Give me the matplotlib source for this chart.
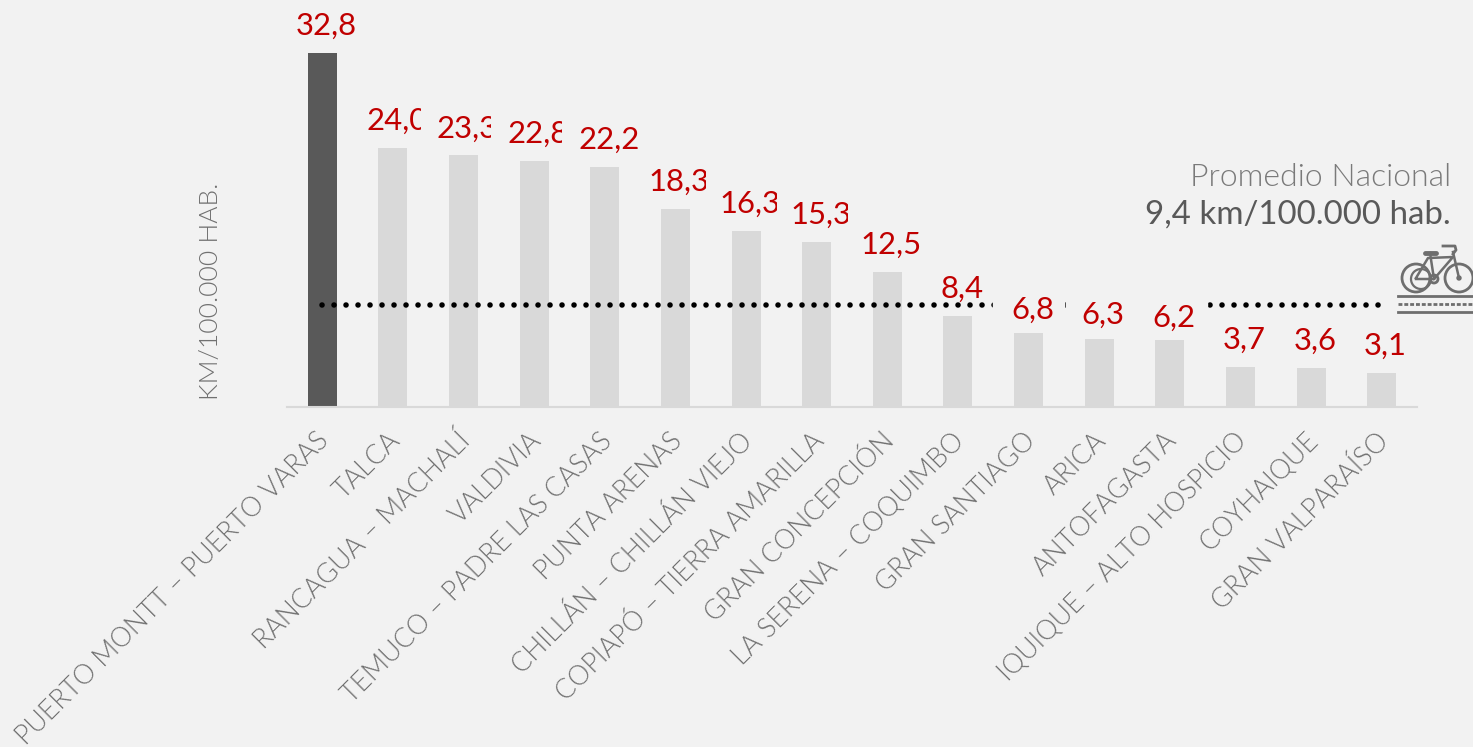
import os
import matplotlib
matplotlib.use("Agg")
import matplotlib.pyplot as plt
from matplotlib import font_manager as fm
from matplotlib.patches import Circle, Rectangle
from matplotlib.transforms import Bbox

W, H = 1473, 747

ciudades = [
    "PUERTO MONTT – PUERTO VARAS", "TALCA", "RANCAGUA – MACHALÍ", "VALDIVIA",
    "TEMUCO – PADRE LAS CASAS", "PUNTA ARENAS", "CHILLÁN – CHILLÁN VIEJO",
    "COPIAPÓ – TIERRA AMARILLA", "GRAN CONCEPCIÓN", "LA SERENA – COQUIMBO",
    "GRAN SANTIAGO", "ARICA", "ANTOFAGASTA", "IQUIQUE – ALTO HOSPICIO",
    "COYHAIQUE", "GRAN VALPARAÍSO",
]
km_hab = [32.8, 24.0, 23.3, 22.8, 22.2, 18.3, 16.3, 15.3, 12.5, 8.4, 6.8, 6.3, 6.2, 3.7, 3.6, 3.1]
promedio = 9.4
# etiquetas cortadas a la derecha, como en el original (limite en pixeles)
corte_etiqueta = {1: 421, 2: 491, 3: 562, 5: 706, 6: 777, 7: 848}
# etiquetas que en el original quedan algo mas abajo
bajada_etiqueta = {10: 4, 11: 3, 12: 5}
# cajas de fondo de las etiquetas que tapan la linea punteada
caja_etiqueta = [(993, 1064), (1066, 1136), (1137, 1207)]

GRIS_FONDO = "#f2f2f2"
ROJO = "#c00000"

plt.rcParams["font.family"] = ["Lato", "DejaVu Sans"]


def fuente_light(size):
    # Lato Light por archivo, con weight=light matplotlib elige la Hairline
    for f in fm.findSystemFonts():
        nombre = os.path.basename(f).lower()
        if nombre in ("lato-light.ttf", "lato-light.otf"):
            return fm.FontProperties(fname=f, size=size)
    return fm.FontProperties(family="Lato", size=size)


fig = plt.figure(figsize=(W / 100, H / 100), dpi=100, facecolor=GRIS_FONDO)

# ejes en pixeles: x 287..1417, base en y=406.5
ax = fig.add_axes([287 / W, 1 - 406.5 / H, 1130 / W, 353.5 / H])
ax.set_facecolor("none")
ax.set_xlim(-0.5, 15.5)
ax.set_ylim(0, 32.8)
for lado in ["top", "left", "right"]:
    ax.spines[lado].set_visible(False)
ax.spines["bottom"].set_color("#d9d9d9")
ax.spines["bottom"].set_linewidth(1.5)
ax.set_yticks([])
ax.set_xticks([])

colores = ["#595959"] + ["#d9d9d9"] * (len(km_hab) - 1)
x = list(range(len(km_hab)))
ax.bar(x, km_hab, width=0.41, color=colores, zorder=2)

ax.plot([0.0, 15.0], [promedio, promedio], color="black", lw=4,
        linestyle=(0, (0.01, 2.15)), dash_capstyle="round", zorder=3)

# capa en pixeles para textos, cajas e icono
capa = fig.add_axes([0, 0, 1, 1], facecolor="none")
capa.set_xlim(0, W)
capa.set_ylim(H, 0)
capa.axis("off")
for x0, x1 in caja_etiqueta:
    capa.add_patch(Rectangle((x0, 295), x1 - x0, 20, color=GRIS_FONDO, zorder=1))

for i, v in enumerate(km_hab):
    px = 287 + (i + 0.5) * 1130 / 16 + 4
    py = 406.5 - v * 353.5 / 32.8 - 13 + bajada_etiqueta.get(i, 0)
    tt = capa.text(px, py, f"{v:.1f}".replace(".", ","), ha="center", va="bottom",
                   fontsize=22.3, color=ROJO, zorder=5)
    if i in corte_etiqueta:
        tt.set_clip_box(Bbox([[0, 0], [corte_etiqueta[i], H]]))
        tt.set_clip_on(True)

for i, nombre in enumerate(ciudades):
    px = 287 + (i + 0.5) * 1130 / 16 - 6
    capa.text(px, 428, nombre, rotation=45, rotation_mode="anchor", ha="right", va="top",
              fontproperties=fuente_light(19.25), color="#707070")

capa.text(211, 291, "KM/100.000 HAB.", rotation=90, ha="center", va="center",
          fontproperties=fuente_light(19), color="#707070")
capa.text(1451, 178, "Promedio Nacional", ha="right", va="center",
          fontproperties=fuente_light(23), color="#7a7a7a")
capa.text(1451, 215, "9,4 km/100.000 hab.", ha="right", va="center",
          fontsize=23.8, color="#595959")

# icono de bicicleta sobre ciclovia
ICONO = "#6e6e6e"
for cx in [1416, 1459]:
    capa.add_patch(Circle((cx, 278), 14, fill=False, ec=ICONO, lw=2))
capa.add_patch(Circle((1421, 279), 10, fill=False, ec=ICONO, lw=1.6))
capa.add_patch(Circle((1434, 279), 4, fill=False, ec=ICONO, lw=2))
capa.add_patch(Circle((1459, 278), 2, color=ICONO))
capa.plot([1416, 1428, 1453, 1434, 1416], [278, 258, 257, 279, 279], color=ICONO, lw=1.8)
capa.plot([1430, 1434], [253, 279], color=ICONO, lw=1.8)
capa.plot([1425, 1436], [253, 253], color=ICONO, lw=3.5, solid_capstyle="round")
capa.plot([1459, 1453], [278, 252], color=ICONO, lw=1.8)
capa.plot([1443, 1455, 1456, 1453], [246, 246, 250, 254], color=ICONO, lw=2)
capa.plot([1398, 1473], [296, 296], color=ICONO, lw=2)
capa.plot([1398, 1473], [304, 304], color=ICONO, lw=2, linestyle=(0, (1.4, 0.7)))
capa.plot([1398, 1473], [312, 312], color=ICONO, lw=2)

fig.savefig("out.png", dpi=100, facecolor=GRIS_FONDO)
